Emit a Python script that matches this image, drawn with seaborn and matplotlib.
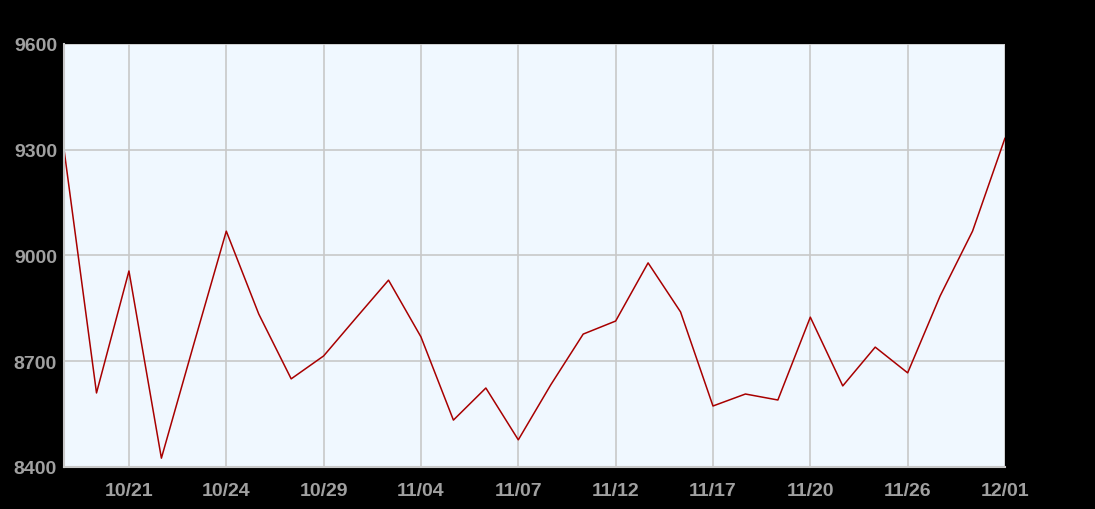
import numpy as np, pandas as pd
import matplotlib
matplotlib.use('Agg')
import matplotlib.pyplot as plt
import seaborn as sns

# daily values (30 points)
values = [9300, 8610, 8956, 8425, 8749, 9069, 8834, 8650, 8715, 8823,
          8930, 8769, 8533, 8624, 8477, 8633, 8777, 8814, 8979, 8840,
          8573, 8607, 8590, 8825, 8630, 8740, 8667, 8885, 9069, 9333]
tick_pos = [2, 5, 8, 11, 14, 17, 20, 23, 26, 29]
tick_labels = ['10/21', '10/24', '10/29', '11/04', '11/07',
               '11/12', '11/17', '11/20', '11/26', '12/01']
y_ticks = [8400, 8700, 9000, 9300, 9600]

df = pd.DataFrame({'idx': np.arange(len(values)), 'value': values})

sns.set_style('white')
plt.rcParams['font.family'] = ['Liberation Sans', 'DejaVu Sans']

fig = plt.figure(figsize=(10.95, 5.10), dpi=100, facecolor='black')
ax = fig.add_axes([0.0585, 0.0824, 0.8593, 0.8294])
ax.set_facecolor('#F0F8FF')

sns.lineplot(data=df, x='idx', y='value', ax=ax, color='#A80000', lw=1.1)

ax.set_xlim(0, len(values) - 1)
ax.set_ylim(8400, 9600)
ax.set_xticks(tick_pos)
ax.set_xticklabels(tick_labels)
ax.set_yticks(y_ticks)
ax.set_yticklabels([str(v) for v in y_ticks])
ax.tick_params(axis='both', length=0, colors='#A0A0A0', labelsize=14)
ax.tick_params(axis='x', pad=11)
ax.tick_params(axis='y', pad=5)
for lab in ax.get_xticklabels() + ax.get_yticklabels():
    lab.set_fontweight('bold')
ax.grid(True, color='#C8C8C8', lw=1.2)
ax.set_axisbelow(True)
for side in ['top', 'right']:
    ax.spines[side].set_visible(False)
for side in ['left', 'bottom']:
    ax.spines[side].set_color('#C8C8C8')
    ax.spines[side].set_linewidth(1.5)
ax.set_xlabel(''); ax.set_ylabel('')

fig.savefig('out.png', dpi=100, facecolor='black')
